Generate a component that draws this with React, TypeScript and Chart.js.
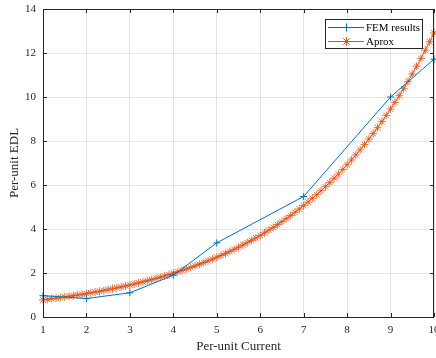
import React, { useEffect, useRef } from "react";
import { Chart, registerables } from "chart.js";

Chart.register(...registerables);

const femX = [1, 2, 3, 4, 5, 7, 9, 10];
const femY = [0.97, 0.84, 1.1, 1.9, 3.37, 5.48, 10.0, 11.72];

const aproxX = [
  1.0, 1.1, 1.2, 1.3, 1.4, 1.5, 1.6, 1.7, 1.8, 1.9,
  2.0, 2.1, 2.2, 2.3, 2.4, 2.5, 2.6, 2.7, 2.8, 2.9,
  3.0, 3.1, 3.2, 3.3, 3.4, 3.5, 3.6, 3.7, 3.8, 3.9,
  4.0, 4.1, 4.2, 4.3, 4.4, 4.5, 4.6, 4.7, 4.8, 4.9,
  5.0, 5.1, 5.2, 5.3, 5.4, 5.5, 5.6, 5.7, 5.8, 5.9,
  6.0, 6.1, 6.2, 6.3, 6.4, 6.5, 6.6, 6.7, 6.8, 6.9,
  7.0, 7.1, 7.2, 7.3, 7.4, 7.5, 7.6, 7.7, 7.8, 7.9,
  8.0, 8.1, 8.2, 8.3, 8.4, 8.5, 8.6, 8.7, 8.8, 8.9,
  9.0, 9.1, 9.2, 9.3, 9.4, 9.5, 9.6, 9.7, 9.8, 9.9,
  10.0,
];
const aproxY = [
  0.78, 0.805, 0.83, 0.856, 0.884, 0.912, 0.94, 0.97, 1.001, 1.032,
  1.065, 1.099, 1.133, 1.169, 1.206, 1.245, 1.284, 1.325, 1.366, 1.41,
  1.455, 1.501, 1.549, 1.598, 1.648, 1.7, 1.754, 1.81, 1.867, 1.926,
  1.988, 2.051, 2.116, 2.183, 2.252, 2.323, 2.397, 2.472, 2.551, 2.632,
  2.715, 2.801, 2.89, 2.981, 3.075, 3.173, 3.273, 3.377, 3.484, 3.594,
  3.709, 3.827, 3.947, 4.073, 4.201, 4.334, 4.472, 4.613, 4.759, 4.91,
  5.066, 5.227, 5.392, 5.562, 5.738, 5.92, 6.108, 6.301, 6.5, 6.706,
  6.92, 7.139, 7.365, 7.598, 7.838, 8.087, 8.343, 8.606, 8.879, 9.16,
  9.452, 9.752, 10.06, 10.378, 10.706, 11.046, 11.395, 11.755, 12.128, 12.512,
  12.91,
];

const xTicks = [1, 2, 3, 4, 5, 6, 7, 8, 9, 10];
const yTicks = [0, 2, 4, 6, 8, 10, 12, 14];

const FONT = '"Liberation Serif", "Times New Roman", serif';
const AXIS = "#262626";
const BLUE = "#0072BD";
const ORANGE = "#D95319";

const boxPlugin = {
  id: "matlabBox",
  afterDraw(chart: any) {
    const { ctx, chartArea: a, scales } = chart;
    ctx.save();
    ctx.strokeStyle = AXIS;
    ctx.lineWidth = 1;
    const tl = 4;
    ctx.beginPath();
    xTicks.forEach((v) => {
      const px = Math.round(scales.x.getPixelForValue(v)) + 0.5;
      ctx.moveTo(px, a.bottom);
      ctx.lineTo(px, a.bottom - tl);
      ctx.moveTo(px, a.top);
      ctx.lineTo(px, a.top + tl);
    });
    yTicks.forEach((v) => {
      const py = Math.round(scales.y.getPixelForValue(v)) + 0.5;
      ctx.moveTo(a.left, py);
      ctx.lineTo(a.left + tl, py);
      ctx.moveTo(a.right, py);
      ctx.lineTo(a.right - tl, py);
    });
    ctx.stroke();
    ctx.strokeRect(Math.round(a.left) + 0.5, Math.round(a.top) + 0.5, Math.round(a.right - a.left) - 1, Math.round(a.bottom - a.top));

    // legend
    const bx = 325, by = 19, bw = 97, bh = 29;
    ctx.fillStyle = "#ffffff";
    ctx.fillRect(bx, by, bw, bh);
    ctx.strokeStyle = AXIS;
    ctx.strokeRect(bx + 0.5, by + 0.5, bw, bh);
    const rows = [27, 41];
    chart.data.datasets.forEach((ds: any, i: number) => {
      const y = rows[i];
      ctx.strokeStyle = ds.borderColor;
      ctx.lineWidth = 1;
      ctx.beginPath();
      ctx.moveTo(328, y + 0.5);
      ctx.lineTo(364, y + 0.5);
      ctx.stroke();
      ctx.beginPath();
      const cx = 346.5, cy = y + 0.5, r = ds.pointRadius + 0.5;
      ctx.moveTo(cx - r, cy); ctx.lineTo(cx + r, cy);
      ctx.moveTo(cx, cy - r); ctx.lineTo(cx, cy + r);
      if (ds.pointStyle === "star") {
        const d = r * 0.707;
        ctx.moveTo(cx - d, cy - d); ctx.lineTo(cx + d, cy + d);
        ctx.moveTo(cx - d, cy + d); ctx.lineTo(cx + d, cy - d);
      }
      ctx.stroke();
      ctx.fillStyle = "#000000";
      ctx.font = `11px ${FONT}`;
      ctx.textBaseline = "middle";
      ctx.textAlign = "left";
      ctx.fillText(ds.label, 366, y + 1);
    });
    ctx.restore();
  },
};

export default function App() {
  const ref = useRef<HTMLCanvasElement | null>(null);
  useEffect(() => {
    document.body.style.margin = "0";
    if (!ref.current) return;
    const chart = new Chart(ref.current, {
      type: "line",
      data: {
        datasets: [
          {
            label: "FEM results",
            data: femX.map((x, i) => ({ x, y: femY[i] })),
            borderColor: BLUE,
            backgroundColor: BLUE,
            borderWidth: 1,
            pointStyle: "cross",
            pointRadius: 3.5,
            pointBorderWidth: 1,
            pointBorderColor: BLUE,
            clip: false,
            order: 1,
          },
          {
            label: "Aprox",
            data: aproxX.map((x, i) => ({ x, y: aproxY[i] })),
            borderColor: ORANGE,
            backgroundColor: ORANGE,
            borderWidth: 1,
            pointStyle: "star",
            pointRadius: 4,
            pointBorderWidth: 1,
            pointBorderColor: "rgba(217,83,25,0.8)",
            clip: false,
            order: 2,
          },
        ],
      },
      options: {
        animation: false,
        responsive: false,
        events: [],
        layout: { autoPadding: false, padding: { left: 0, right: 2, top: 9, bottom: 0 } },
        plugins: { legend: { display: false }, tooltip: { enabled: false } },
        scales: {
          x: {
            type: "linear",
            min: 1,
            max: 10,
            afterFit: (s: any) => { s.height = 41; s.paddingLeft = 0; s.paddingRight = 0; },
            afterBuildTicks: (s: any) => { s.ticks = xTicks.map((v) => ({ value: v })); },
            ticks: { color: AXIS, font: { family: FONT, size: 11 }, padding: 7, maxRotation: 0 },
            grid: { color: "rgba(38,38,38,0.12)", drawTicks: false },
            border: { display: false },
            title: { display: true, text: "Per-unit Current", color: AXIS, font: { family: FONT, size: 13 }, padding: { top: 0, bottom: 4 } },
          },
          y: {
            type: "linear",
            min: 0,
            max: 14,
            afterFit: (s: any) => { s.width = 43; s.paddingTop = 0; s.paddingBottom = 0; },
            afterBuildTicks: (s: any) => { s.ticks = yTicks.map((v) => ({ value: v })); },
            ticks: { color: AXIS, font: { family: FONT, size: 11 }, padding: 7 },
            grid: { color: "rgba(38,38,38,0.12)", drawTicks: false },
            border: { display: false },
            title: { display: true, text: "Per-unit EDL", color: AXIS, font: { family: FONT, size: 13 }, padding: { top: 7, bottom: 0 } },
          },
        },
      },
      plugins: [boxPlugin],
    });
    return () => chart.destroy();
  }, []);
  return <canvas ref={ref} width={436} height={358} style={{ display: "block" }} />;
}
